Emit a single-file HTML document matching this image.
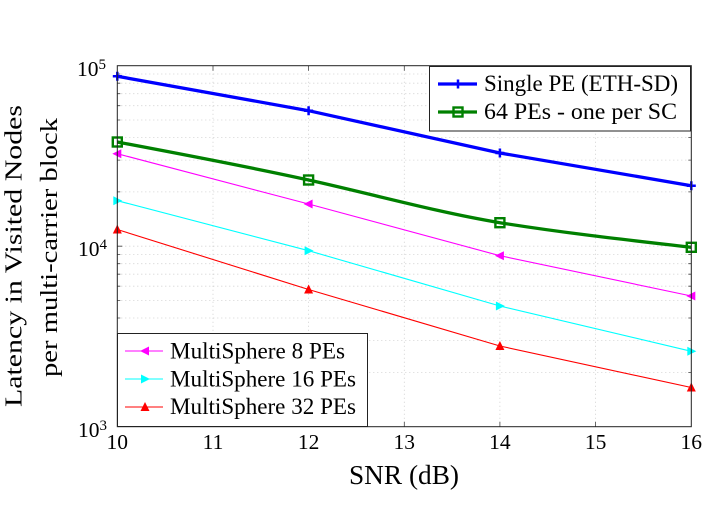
<!DOCTYPE html>
<html><head><meta charset="utf-8"><style>
html,body{margin:0;padding:0;background:#fff;}
svg{display:block;font-family:"Liberation Serif",serif;}
</style></head><body>
<svg width="712" height="532" viewBox="0 0 712 532" xmlns="http://www.w3.org/2000/svg">
<rect width="712" height="532" fill="#fff"/>
<!-- grid -->
<g stroke="#c8c8c8" stroke-width="0.8" stroke-dasharray="1,3" fill="none">
<line x1="213" y1="65.7" x2="213" y2="426.7"/>
<line x1="308.6" y1="65.7" x2="308.6" y2="426.7"/>
<line x1="404.3" y1="65.7" x2="404.3" y2="426.7"/>
<line x1="499.9" y1="65.7" x2="499.9" y2="426.7"/>
<line x1="595.6" y1="65.7" x2="595.6" y2="426.7"/>
<line x1="117.3" y1="372.4" x2="691.3" y2="372.4"/>
<line x1="117.3" y1="340.6" x2="691.3" y2="340.6"/>
<line x1="117.3" y1="318.0" x2="691.3" y2="318.0"/>
<line x1="117.3" y1="300.5" x2="691.3" y2="300.5"/>
<line x1="117.3" y1="286.2" x2="691.3" y2="286.2"/>
<line x1="117.3" y1="274.2" x2="691.3" y2="274.2"/>
<line x1="117.3" y1="263.7" x2="691.3" y2="263.7"/>
<line x1="117.3" y1="254.5" x2="691.3" y2="254.5"/>
<line x1="117.3" y1="246.2" x2="691.3" y2="246.2"/>
<line x1="117.3" y1="191.9" x2="691.3" y2="191.9"/>
<line x1="117.3" y1="160.1" x2="691.3" y2="160.1"/>
<line x1="117.3" y1="137.5" x2="691.3" y2="137.5"/>
<line x1="117.3" y1="120.0" x2="691.3" y2="120.0"/>
<line x1="117.3" y1="105.7" x2="691.3" y2="105.7"/>
<line x1="117.3" y1="93.7" x2="691.3" y2="93.7"/>
<line x1="117.3" y1="83.2" x2="691.3" y2="83.2"/>
<line x1="117.3" y1="74.0" x2="691.3" y2="74.0"/>
</g>
<!-- ticks -->
<g stroke="#444" stroke-width="0.8">
<path d="M117.3,372.4h3M117.3,340.6h3M117.3,318h3M117.3,300.5h3M117.3,286.2h3M117.3,274.2h3M117.3,263.7h3M117.3,254.5h3M117.3,246.2h5M117.3,191.9h3M117.3,160.1h3M117.3,137.5h3M117.3,120h3M117.3,105.7h3M117.3,93.7h3M117.3,83.2h3M117.3,74h3"/>
<path d="M691.3,372.4h-3M691.3,340.6h-3M691.3,318h-3M691.3,300.5h-3M691.3,286.2h-3M691.3,274.2h-3M691.3,263.7h-3M691.3,254.5h-3M691.3,246.2h-5M691.3,191.9h-3M691.3,160.1h-3M691.3,137.5h-3M691.3,120h-3M691.3,105.7h-3M691.3,93.7h-3M691.3,83.2h-3M691.3,74h-3"/>
<path d="M213,426.7v-5M308.6,426.7v-5M404.3,426.7v-5M499.9,426.7v-5M595.6,426.7v-5M213,65.7v5M308.6,65.7v5M404.3,65.7v5M499.9,65.7v5M595.6,65.7v5"/>
</g>
<!-- series -->
<polyline points="117.3,76.3 308.6,110.7 499.9,153 691.3,185.7" fill="none" stroke="#0000ff" stroke-width="3.3"/>
<path d="M117.3,142 C181,154 245,166 308.6,180 C372,194 436,212 499.9,222.7 C564,233 628,240 691.3,247.3" fill="none" stroke="#008000" stroke-width="3.3"/>
<polyline points="117.3,153.7 308.6,204 499.9,255.7 691.3,296" fill="none" stroke="#ff00ff" stroke-width="1.1"/>
<polyline points="117.3,200.7 308.6,250.7 499.9,306 691.3,351.3" fill="none" stroke="#00ffff" stroke-width="1.1"/>
<polyline points="117.3,229.5 308.6,289.5 499.9,346 691.3,387.5" fill="none" stroke="#ff0000" stroke-width="1.1"/>
<!-- markers -->
<g stroke="#0000ff" stroke-width="2.5">
<path d="M112.8,76.3h9M117.3,71.8v9M304.1,110.7h9M308.6,106.2v9M495.4,153h9M499.9,148.5v9M686.8,185.7h9M691.3,181.2v9"/>
</g>
<g stroke="#008000" stroke-width="2.4" fill="none">
<rect x="112.8" y="137.5" width="9" height="9"/>
<rect x="304.1" y="175.5" width="9" height="9"/>
<rect x="495.4" y="218.2" width="9" height="9"/>
<rect x="686.8" y="242.8" width="9" height="9"/>
</g>
<g fill="#ff00ff">
<polygon points="112.3,153.7 121.3,149.2 121.3,158.2"/>
<polygon points="303.6,204 312.6,199.5 312.6,208.5"/>
<polygon points="494.9,255.7 503.9,251.2 503.9,260.2"/>
<polygon points="686.3,296 695.3,291.5 695.3,300.5"/>
</g>
<g fill="#00ffff">
<polygon points="122.3,200.7 113.3,196.2 113.3,205.2"/>
<polygon points="313.6,250.7 304.6,246.2 304.6,255.2"/>
<polygon points="504.9,306 495.9,301.5 495.9,310.5"/>
<polygon points="696.3,351.3 687.3,346.8 687.3,355.8"/>
</g>
<g fill="#ff0000">
<polygon points="117.3,224.5 112.8,233.5 121.8,233.5"/>
<polygon points="308.6,284.5 304.1,293.5 313.1,293.5"/>
<polygon points="499.9,341 495.4,350 504.4,350"/>
<polygon points="691.3,382.5 686.8,391.5 695.8,391.5"/>
</g>
<!-- legend 1 -->
<rect x="429.5" y="66.5" width="261" height="64.5" fill="#fff" stroke="#222" stroke-width="1"/>
<line x1="438" y1="84" x2="477" y2="84" stroke="#0000ff" stroke-width="3.3"/>
<path d="M453.5,84h9M458,79.5v9" stroke="#0000ff" stroke-width="2.5"/>
<line x1="438" y1="112" x2="477" y2="112" stroke="#008000" stroke-width="3.3"/>
<rect x="453.5" y="107.5" width="9" height="9" fill="none" stroke="#008000" stroke-width="2.4"/>
<g font-size="22.7" fill="#000">
<text x="484" y="91" textLength="194" lengthAdjust="spacingAndGlyphs">Single PE (ETH-SD)</text>
<text x="484" y="119" textLength="193" lengthAdjust="spacingAndGlyphs">64 PEs - one per SC</text>
</g>
<!-- legend 2 -->
<rect x="117.5" y="333.5" width="250" height="93" fill="#fff" stroke="#222" stroke-width="1"/>
<line x1="125" y1="351" x2="163" y2="351" stroke="#ff00ff" stroke-width="1.1"/>
<polygon points="140,351 149,346.5 149,355.5" fill="#ff00ff"/>
<line x1="125" y1="379" x2="163" y2="379" stroke="#00ffff" stroke-width="1.1"/>
<polygon points="150,379 141,374.5 141,383.5" fill="#00ffff"/>
<line x1="125" y1="407" x2="163" y2="407" stroke="#ff0000" stroke-width="1.1"/>
<polygon points="145,402 140.5,411 149.5,411" fill="#ff0000"/>
<g font-size="22.7" fill="#000">
<text x="170" y="358.5" textLength="175" lengthAdjust="spacingAndGlyphs">MultiSphere 8 PEs</text>
<text x="170" y="386.5" textLength="186" lengthAdjust="spacingAndGlyphs">MultiSphere 16 PEs</text>
<text x="170" y="414" textLength="186" lengthAdjust="spacingAndGlyphs">MultiSphere 32 PEs</text>
</g>
<!-- axis box -->
<rect x="117.3" y="65.7" width="574" height="361" fill="none" stroke="#222" stroke-width="1"/>
<!-- tick labels -->
<g font-size="21.5" fill="#000" text-anchor="middle">
<text x="117.3" y="449">10</text>
<text x="213" y="449">11</text>
<text x="308.6" y="449">12</text>
<text x="404.3" y="449">13</text>
<text x="499.9" y="449">14</text>
<text x="595.6" y="449">15</text>
<text x="691.3" y="449">16</text>
</g>
<g font-size="21.5" fill="#000">
<text x="77" y="76">10<tspan font-size="15" dy="-7">5</tspan></text>
<text x="78" y="256">10<tspan font-size="15" dy="-7">4</tspan></text>
<text x="78" y="437">10<tspan font-size="15" dy="-7">3</tspan></text>
</g>
<text x="349" y="484" font-size="27" textLength="110" lengthAdjust="spacingAndGlyphs">SNR (dB)</text>
<g font-size="24" transform="rotate(-90)">
<text x="-407" y="21.5" textLength="302" lengthAdjust="spacingAndGlyphs">Latency in Visited Nodes</text>
<text x="-377" y="57" textLength="259" lengthAdjust="spacingAndGlyphs">per multi-carrier block</text>
</g>
</svg>
</body></html>
